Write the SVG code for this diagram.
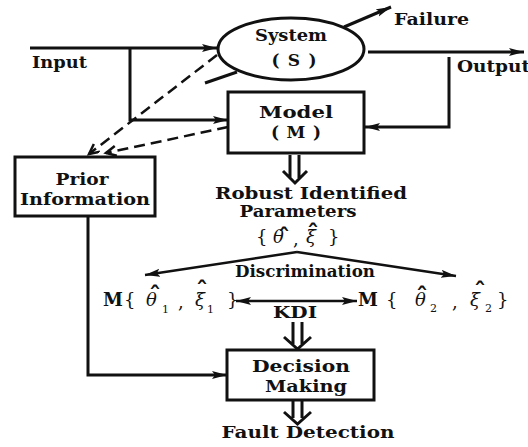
<svg xmlns="http://www.w3.org/2000/svg" width="528" height="447" viewBox="0 0 528 447">
<style>
  .t { font-family: "DejaVu Serif", "Liberation Serif", serif; font-weight: bold; font-size: 17px; fill: #111; }
  .g { font-family: "DejaVu Serif", "Liberation Serif", serif; font-size: 18px; fill: #111; }
  .m { font-style: italic; }
  .s { font-size: 11px; }
  .hat { font-size: 24px; font-weight: bold; font-style: normal; }
  .box { fill: #fff; stroke: #111; stroke-width: 3; }
  .ln { fill: none; stroke: #111; stroke-width: 3; }
  .ln2 { fill: none; stroke: #111; stroke-width: 2.5; }
  .dash { fill: none; stroke: #111; stroke-width: 2.5; stroke-dasharray: 11 6; }
  .dbl { fill: none; stroke: #111; stroke-width: 3; stroke-linejoin: miter; }
</style>
<defs>
  <marker id="arr" markerUnits="userSpaceOnUse" markerWidth="17" markerHeight="10" refX="15" refY="4" orient="auto-start-reverse">
    <path d="M0,0 L15,4 L0,8 L3,4 z" fill="#111"/>
  </marker>
  <marker id="open" markerUnits="userSpaceOnUse" markerWidth="14" markerHeight="12" refX="11" refY="5" orient="auto">
    <path d="M1,0 L11,5 L1,10" fill="none" stroke="#111" stroke-width="2.5"/>
  </marker>
</defs>
<rect width="528" height="447" fill="#fff"/>

<g id="connectors">
  <path class="ln" d="M30,48 H217" marker-end="url(#arr)"/>
  <path class="ln" d="M130,48 V120 H228" marker-end="url(#arr)"/>
  <path class="ln" d="M368,52 H524" marker-end="url(#arr)"/>
  <path class="ln" d="M449,57 V127 H365" marker-end="url(#arr)"/>
  <path class="ln" d="M344,27 L391,7" marker-end="url(#arr)"/>
  <path class="dash" d="M217,55 L89,154" marker-end="url(#open)"/>
  <path class="dash" d="M228,127 L106,153" marker-end="url(#open)"/>
  <path class="ln" stroke-width="3.5" d="M237,72 L205,83"/>
  <path class="ln" d="M88,216 V375 H227" marker-end="url(#arr)"/>
  <path class="ln2" d="M236,301 H357" marker-start="url(#arr)" marker-end="url(#arr)"/>
  <path class="ln2" d="M297,252 L145,275" marker-end="url(#arr)"/>
  <path class="ln2" d="M297,252 L456,276" marker-end="url(#arr)"/>
  <path class="dbl" d="M290,155 V178 M299,155 V178 M283,171 L295,183 L307,171"/>
  <path class="dbl" d="M293,322 V344 M302,322 V344 M284,337 L297.5,349 L311,337"/>
  <path class="dbl" d="M293,401 V418 M302,401 V418 M284,412 L297.5,424 L311,412"/>
</g>

<g id="system">
  <ellipse cx="291" cy="49" rx="73" ry="31" class="box"/>
  <text class="t" x="291" y="41" text-anchor="middle" textLength="72" lengthAdjust="spacingAndGlyphs">System</text>
  <text class="t" x="294" y="66" text-anchor="middle" textLength="45" lengthAdjust="spacing">( S )</text>
</g>

<g id="model">
  <rect x="228" y="92" width="136" height="61" class="box"/>
  <text class="t" x="296" y="118" text-anchor="middle" textLength="74" lengthAdjust="spacingAndGlyphs">Model</text>
  <text class="t" x="296" y="138" text-anchor="middle" textLength="50" lengthAdjust="spacing">( M )</text>
</g>

<g id="prior">
  <rect x="15" y="157" width="140" height="59" class="box"/>
  <text class="t" x="82" y="185" text-anchor="middle" textLength="53" lengthAdjust="spacingAndGlyphs">Prior</text>
  <text class="t" x="85" y="205" text-anchor="middle" textLength="130" lengthAdjust="spacingAndGlyphs">Information</text>
</g>

<g id="decision">
  <rect x="227" y="350" width="147" height="50" class="box"/>
  <text class="t" x="301" y="372" text-anchor="middle" textLength="98" lengthAdjust="spacingAndGlyphs">Decision</text>
  <text class="t" x="306" y="392" text-anchor="middle" textLength="82" lengthAdjust="spacingAndGlyphs">Making</text>
</g>

<g id="labels">
  <text class="t" x="32" y="68" textLength="55" lengthAdjust="spacingAndGlyphs">Input</text>
  <text class="t" x="457" y="72" textLength="73" lengthAdjust="spacingAndGlyphs">Output</text>
  <text class="t" x="394" y="25" textLength="75" lengthAdjust="spacingAndGlyphs">Failure</text>
  <text class="t" x="311" y="199" text-anchor="middle" textLength="192" lengthAdjust="spacingAndGlyphs">Robust Identified</text>
  <text class="t" x="298" y="217" text-anchor="middle" textLength="117" lengthAdjust="spacingAndGlyphs">Parameters</text>
  <text class="g" y="243"><tspan x="256">{</tspan><tspan x="273" class="m">θ</tspan><tspan x="278" y="246" class="hat">ˆ</tspan><tspan x="293" y="245">,</tspan><tspan x="306" y="243" class="m">ξ</tspan><tspan x="307" y="242" class="hat">ˆ</tspan><tspan x="328" y="243">}</tspan></text>
  <text class="t" x="305" y="277" text-anchor="middle" textLength="140" lengthAdjust="spacingAndGlyphs">Discrimination</text>
  <text class="t" x="295" y="318" text-anchor="middle" textLength="44" lengthAdjust="spacingAndGlyphs">KDI</text>
  <text class="g" y="306"><tspan x="103" font-weight="bold">M</tspan><tspan x="124">{</tspan><tspan x="146" class="m">θ</tspan><tspan x="149" y="304" class="hat">ˆ</tspan><tspan x="162" y="313" class="s">1</tspan><tspan x="178" y="308">,</tspan><tspan x="195" y="306" class="m">ξ</tspan><tspan x="196" y="299" class="hat">ˆ</tspan><tspan x="207" y="313" class="s">1</tspan><tspan x="227" y="306">}</tspan></text>
  <text class="g" y="306"><tspan x="358" font-weight="bold">M</tspan><tspan x="386">{</tspan><tspan x="415" class="m">θ</tspan><tspan x="416" y="305" class="hat">ˆ</tspan><tspan x="430" y="312" class="s">2</tspan><tspan x="452" y="308">,</tspan><tspan x="470" y="306" class="m">ξ</tspan><tspan x="474" y="300" class="hat">ˆ</tspan><tspan x="485" y="312" class="s">2</tspan><tspan x="497" y="306">}</tspan></text>
  <text class="t" x="308" y="438" text-anchor="middle" textLength="173" lengthAdjust="spacingAndGlyphs">Fault Detection</text>
</g>
</svg>
